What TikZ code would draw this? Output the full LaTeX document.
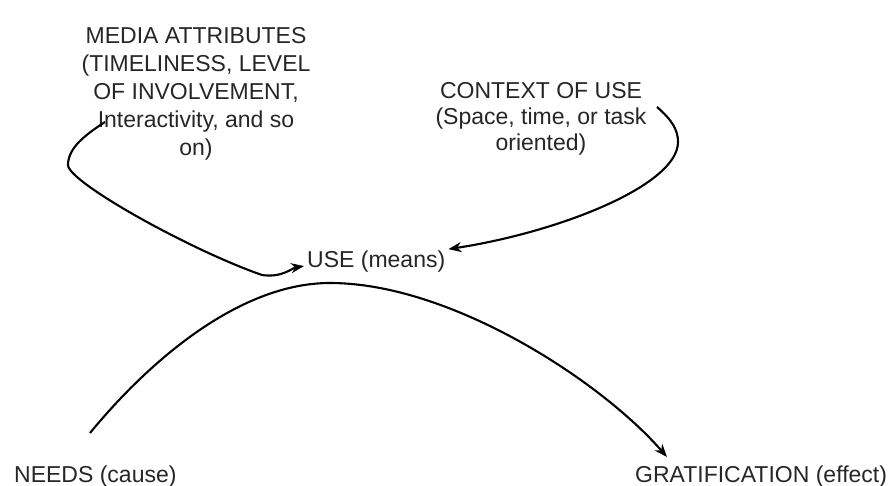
\documentclass[tikz,border=0pt]{standalone}
\usepackage{fontspec}
\setmainfont{Liberation Sans}
\usetikzlibrary{arrows.meta}
\definecolor{txt}{HTML}{262626}
\begin{document}
\begin{tikzpicture}[x=1pt,y=-1pt,
  lbl/.style={inner sep=0pt,text=txt,font=\fontsize{23}{28}\selectfont},
  conn/.style={line width=2.1pt,black,-{Stealth[length=13pt,width=10pt]}},
  plain/.style={line width=2.1pt,black}]
\useasboundingbox (0,0) rectangle (893,486);
\node[lbl,anchor=north,align=center] (media) at (196,27) {MEDIA ATTRIBUTES\\(TIMELINESS, LEVEL\\OF INVOLVEMENT,\\Interactivity, and so\\on)};
\node[lbl,anchor=north,align=center,font=\fontsize{23}{26}\selectfont] (context) at (541,82) {CONTEXT OF USE\\(Space, time, or task\\oriented)};
\node[lbl,anchor=base west] (use) at (307,267) {USE (means)};
\node[lbl,anchor=base west] (needs) at (14,482) {NEEDS (cause)};
\node[lbl,anchor=base west] (grat) at (635,482) {GRATIFICATION (effect)};
\coordinate (mstart) at (105,122);
\coordinate (cstart) at (657,107);
\coordinate (nstart) at (90,433);
\coordinate (gend) at (667,457);
\coordinate (uin) at ([xshift=-3pt,yshift=-5pt]use.west);
\coordinate (uout) at ([xshift=3pt,yshift=1pt]use.north east);
\draw[conn] (mstart) .. controls (85,135) and (68,148) .. (68,165)
  .. controls (68,182) and (190,250) .. (262,275)
  .. controls (282,278) and (292,268) .. (uin);
\draw[conn] (cstart) .. controls (672,120) and (678,130) .. (678,142)
  .. controls (678,185) and (560,232) .. (uout);
\draw[conn] (nstart) .. controls (150,360) and (240,283) .. (330,283)
  .. controls (450,283) and (600,380) .. (gend);
\end{tikzpicture}
\end{document}
